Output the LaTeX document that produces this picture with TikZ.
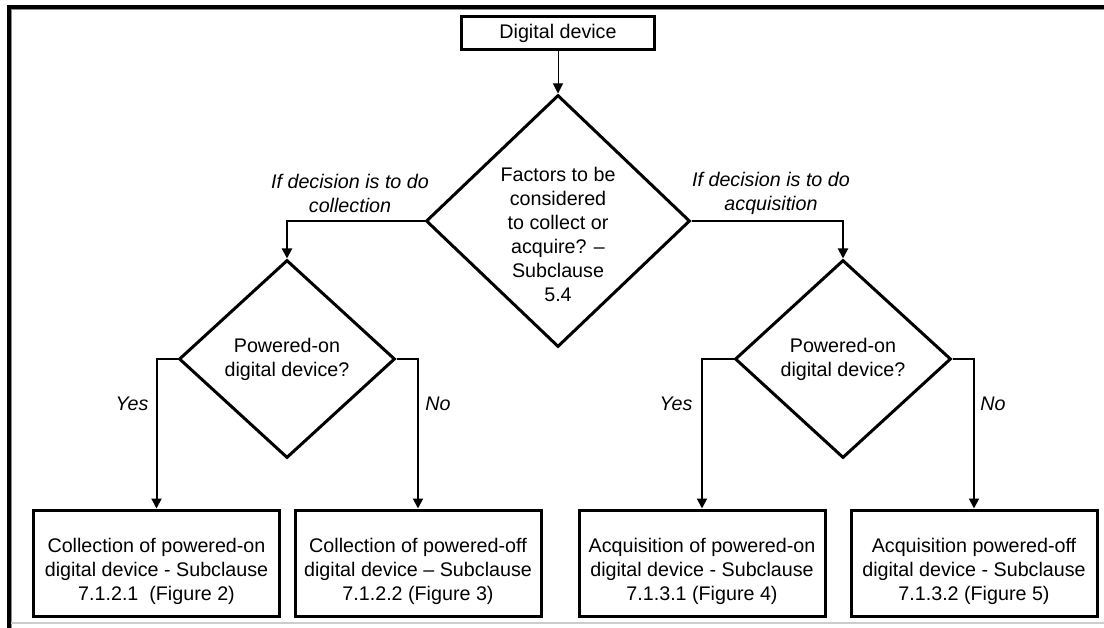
\documentclass[tikz,border=0pt]{standalone}
\usepackage{fontspec}
\setmainfont{Liberation Sans}
\usetikzlibrary{shapes.geometric,arrows.meta}
\begin{document}
\begin{tikzpicture}[x=1pt,y=-1pt,
  every node/.style={font=\fontsize{19.7}{24}\selectfont, inner sep=0pt},
  txt/.style={align=center, font=\fontsize{19.7}{24}\selectfont},
  lbl/.style={align=center, font=\fontsize{19.7}{24}\selectfont\itshape},
  box/.style={draw, line width=3pt, minimum width=246pt, minimum height=106pt},
  topbox/.style={draw, line width=2.7pt, minimum width=193pt, minimum height=33pt},
  dia/.style={draw, diamond, line width=3pt, inner sep=0pt},
  conn/.style={line width=2pt, -{Triangle[length=10pt,width=10pt]}},
]
\useasboundingbox (0,0) rectangle (1104,628);
% frame
\fill[black] (7,5) rectangle (1104,9);
\fill[black] (7,5) rectangle (11,628);
\draw[black!45, line width=1pt] (11,9.5) -- (1104,9.5);
\draw[black!45, line width=1pt] (11.5,9) -- (11.5,628);
\draw[black!20, line width=1.6pt] (11,623) -- (1104,623);

% nodes
\node[topbox, txt] (d0) at (558,33) {Digital device};
\node[dia, minimum width=264pt, minimum height=252pt,
      label={[txt, yshift=-13pt]center:{Factors to be\\considered\\to collect or\\acquire? --\\Subclause\\5.4}}] (d1) at (558,221) {};
\node[dia, txt, minimum width=216pt, minimum height=198pt] (d2) at (287,359) {Powered-on\\digital device?};
\node[dia, txt, minimum width=216pt, minimum height=198pt] (d3) at (843,359) {Powered-on\\digital device?};

\node[box, label={[txt, yshift=-8pt]center:{Collection of powered-on\\digital device - Subclause\\7.1.2.1\ \ (Figure 2)}}] (b1) at (156.5,563) {};
\node[box, label={[txt, yshift=-8pt]center:{Collection of powered-off\\digital device -- Subclause\\7.1.2.2 (Figure 3)}}] (b2) at (418,563) {};
\node[box, label={[txt, yshift=-8pt]center:{Acquisition of powered-on\\digital device - Subclause\\7.1.3.1 (Figure 4)}}] (b3) at (702,563) {};
\node[box, label={[txt, yshift=-8pt]center:{Acquisition powered-off\\digital device - Subclause\\7.1.3.2 (Figure 5)}}] (b4) at (974,563) {};

% labels
\node[lbl] (lc) at (350,193.5) {If decision is to do\\collection};
\node[lbl] (la) at (771,193.5) {If decision is to do\\acquisition};
\node[lbl] (y1) at (132,404) {Yes};
\node[lbl] (n1) at (438,404) {No};
\node[lbl] (y2) at (676,404) {Yes};
\node[lbl] (n2) at (993,404) {No};

% connectors
\draw[conn, line width=1pt] (d0) -- (d1);
\draw[conn] (d1.west) -| (d2.north);
\draw[conn] (d1.east) -| (d3.north);
\draw[conn] (d2.west) -| (b1.north);
\draw[conn] (d2.east) -| (b2.north);
\draw[conn] (d3.west) -| (b3.north);
\draw[conn] (d3.east) -| (b4.north);
\end{tikzpicture}
\end{document}
